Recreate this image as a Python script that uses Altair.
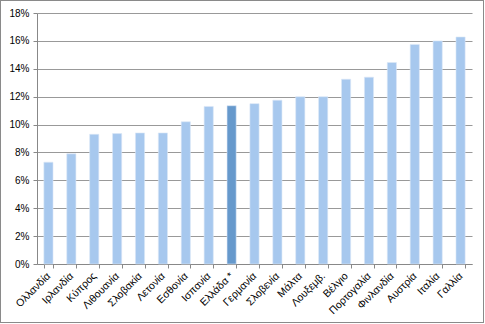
import altair as alt
import pandas as pd

countries = ["Ολλανδία", "Ιρλανδία", "Κύπρος", "Λιθουανία", "Σλοβακία", "Λετονία",
             "Εσθονία", "Ισπανία", "Ελλάδα *", "Γερμανία", "Σλοβενία", "Μάλτα",
             "Λουξεμβ.", "Βέλγιο", "Πορτογαλία", "Φινλανδία", "Αυστρία", "Ιταλία", "Γαλλία"]
values = [7.3, 7.9, 9.3, 9.35, 9.4, 9.4, 10.2, 11.3, 11.35, 11.5, 11.75, 12.0,
          12.0, 13.25, 13.4, 14.45, 15.75, 16.0, 16.28]
highlight = ["Ελλάδα *"]

df = pd.DataFrame({
    "country": countries,
    "value": [v / 100 for v in values],
    "hl": ["yes" if c in highlight else "no" for c in countries],
})

W, H = 435, 251

bars = alt.Chart(df).mark_bar(stroke="#dbe8f7", strokeWidth=0.6).encode(
    x=alt.X("country:N", sort=countries,
            scale=alt.Scale(paddingInner=0.6, paddingOuter=0.3),
            axis=alt.Axis(title=None, labelAngle=-45, labelAlign="right",
                          labelBaseline="middle", labelPadding=6, tickBand="extent",
                          tickSize=4, tickColor="#888888", domainColor="#888888",
                          labelFont="Liberation Sans", labelFontSize=10.5,
                          labelColor="#000000", grid=False)),
    y=alt.Y("value:Q", scale=alt.Scale(domain=[0, 0.18]),
            axis=alt.Axis(title=None, format=".0%", values=[i / 100 for i in range(0, 19, 2)],
                          tickSize=4, tickColor="#888888", domainColor="#888888",
                          gridColor="#999999", gridWidth=1, labelPadding=4,
                          labelFont="Liberation Sans", labelFontSize=10,
                          labelColor="#000000")),
    color=alt.Color("hl:N", scale=alt.Scale(domain=["no", "yes"],
                                            range=["#a7c8ee", "#6699cc"]), legend=None),
)

frame = alt.Chart(df).mark_rect(fill=None, stroke="#8a8a8a", strokeWidth=1).encode(
    x=alt.value(-36.5), x2=alt.value(446.5), y=alt.value(-12.5), y2=alt.value(309.5)
)

chart = alt.layer(frame, bars).properties(
    width=W, height=H,
    autosize=alt.AutoSizeParams(type="none"),
    padding={"left": 37, "top": 13, "right": 13, "bottom": 60},
    background="white",
).configure_view(stroke=None)

chart.save("out.html", embed_options={"renderer": "svg", "actions": False})
